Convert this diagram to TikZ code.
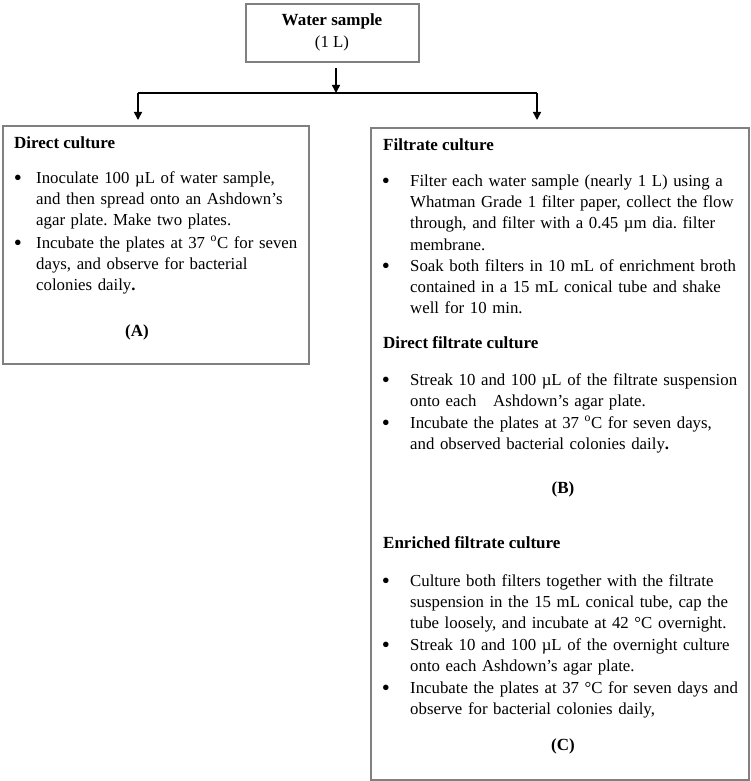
\documentclass[tikz,border=0pt]{standalone}
\usepackage{fontspec}
\setmainfont{Liberation Serif}
\usetikzlibrary{arrows.meta}
\begin{document}
\frenchspacing
\begin{tikzpicture}[x=1pt,y=-1pt,
  boxline/.style={draw=black!50,line width=1.6pt,inner sep=0pt,anchor=north west},
  body/.style={anchor=base west,inner sep=0pt,align=left,text width=#1,font=\fontsize{16.8}{21.4}\selectfont\frenchspacing},
  lbl/.style={anchor=base,inner sep=0pt,font=\fontsize{16.8}{21.4}\selectfont},
  head/.style={anchor=base west,inner sep=0pt,font=\fontsize{17}{21.4}\selectfont\bfseries},
  bul/.style={anchor=base,inner sep=0pt,yshift=-2pt,font=\fontsize{23}{23}\selectfont},
  arr/.style={line width=1.5pt,-{Triangle[length=8pt,width=8pt]}},
  conn/.style={line width=1.5pt}
]
\path[use as bounding box,fill=white] (0,0) rectangle (750,781);

% top box
\node[boxline,minimum width=173pt,minimum height=58pt] (top) at (245,3) {};
\node[lbl,font=\fontsize{17}{21.4}\selectfont\bfseries] (ws) at (332,26) {Water sample};
\node[lbl] (wl) at (332,48) {(1 L)};

% connectors
\coordinate (tstart) at (336,68);
\coordinate (split) at (336,93);
\coordinate (jl) at (138,93);
\coordinate (jr) at (537,93);
\coordinate (el) at (138,120);
\coordinate (er) at (537,120);
\draw[arr] (tstart) -- (split);
\draw[conn] (jl) -- (jr);
\draw[arr] (jl) -- (el);
\draw[arr] (jr) -- (er);

% left box
\node[boxline,minimum width=306pt,minimum height=238pt] (boxA) at (2,125) {};
\node[head] (hA) at (14,148) {Direct culture};
\node[bul] (bA1) at (18,183) {•};
\node[body=300pt] (tA1) at (36,183) {Inoculate 100 µL of water sample,\\and then spread onto an Ashdown’s\\agar plate. Make two plates.};
\node[bul] (bA2) at (18,248) {•};
\node[body=300pt] (tA2) at (36,248) {Incubate the plates at 37 \textsuperscript{o}C for seven\\days, and observe for bacterial\\colonies daily{\bfseries .}};
\node[lbl,font=\fontsize{17}{21.4}\selectfont\bfseries] (lA) at (137,336) {(A)};

% right box
\node[boxline,minimum width=378pt,minimum height=652pt] (boxB) at (370,127) {};
\node[head] (hB) at (383,150) {Filtrate culture};
\node[bul] (bB1) at (386,186) {•};
\node[body=360pt] (tB1) at (410,186) {Filter each water sample (nearly 1 L) using a\\Whatman Grade 1 filter paper, collect the flow\\through, and filter with a 0.45 µm dia. filter\\membrane.};
\node[bul] (bB2) at (386,271) {•};
\node[body=360pt] (tB2) at (410,271) {Soak both filters in 10 mL of enrichment broth\\contained in a 15 mL conical tube and shake\\well for 10 min.};

\node[head] (hB2) at (383,348) {Direct filtrate culture};
\node[bul] (bB3) at (386,385) {•};
\node[body=360pt] (tB3) at (410,385) {Streak 10 and 100 µL of the filtrate suspension\\onto each \ \ Ashdown’s agar plate.};
\node[bul] (bB4) at (386,428) {•};
\node[body=360pt] (tB4) at (410,428) {Incubate the plates at 37 \textsuperscript{o}C for seven days,\\and observed bacterial colonies daily{\bfseries .}};
\node[lbl,font=\fontsize{17}{21.4}\selectfont\bfseries] (lB) at (563,493) {(B)};

\node[head] (hC) at (383,548) {Enriched filtrate culture};
\node[bul] (bC1) at (386,586) {•};
\node[body=360pt] (tC1) at (410,586) {Culture both filters together with the filtrate\\suspension in the 15 mL conical tube, cap the\\tube loosely, and incubate at 42 °C overnight.};
\node[bul] (bC2) at (386,650) {•};
\node[body=360pt] (tC2) at (410,650) {Streak 10 and 100 µL of the overnight culture\\onto each Ashdown’s agar plate.};
\node[bul] (bC3) at (386,693) {•};
\node[body=360pt] (tC3) at (410,693) {Incubate the plates at 37 °C for seven days and\\observe for bacterial colonies daily,};
\node[lbl,font=\fontsize{17}{21.4}\selectfont\bfseries] (lC) at (563,750) {(C)};
\end{tikzpicture}
\end{document}
